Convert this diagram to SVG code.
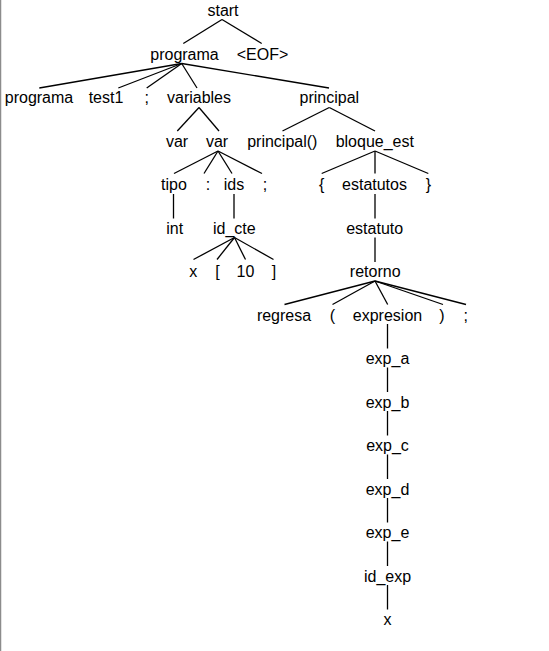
<svg xmlns="http://www.w3.org/2000/svg" width="549" height="651" viewBox="0 0 549 651">
  <style>
    text { font-family: "Liberation Sans", Arial, sans-serif; font-size: 16px; fill: #000; text-anchor: middle; }
    .edges line { stroke: #000; stroke-width: 1.3; }
  </style>
  <rect width="549" height="651" fill="#fff"/>
  <line x1="0.5" y1="0" x2="0.5" y2="651" stroke="#8c8c8c" stroke-width="1.5"/>

  <!-- parse tree edges -->
  <g class="edges">
    <line x1="222" y1="19.5" x2="183.3" y2="43.5"/>
    <line x1="222" y1="19.5" x2="261.7" y2="43.5"/>
    <line x1="181.7" y1="63.5" x2="39.3" y2="88"/>
    <line x1="181.7" y1="63.5" x2="118.3" y2="88"/>
    <line x1="181.7" y1="63.5" x2="146.7" y2="88"/>
    <line x1="181.7" y1="63.5" x2="197" y2="88"/>
    <line x1="181.7" y1="63.5" x2="329" y2="88"/>
    <line x1="199" y1="107.5" x2="177.3" y2="131"/>
    <line x1="199" y1="107.5" x2="219" y2="131"/>
    <line x1="329.3" y1="107.5" x2="282.5" y2="131"/>
    <line x1="329.3" y1="107.5" x2="375" y2="131"/>
    <line x1="218" y1="151" x2="174" y2="173.5"/>
    <line x1="218" y1="151" x2="204" y2="173.5"/>
    <line x1="218" y1="151" x2="232" y2="173.5"/>
    <line x1="218" y1="151" x2="262" y2="173.5"/>
    <line x1="375" y1="151" x2="321.7" y2="173.5"/>
    <line x1="375" y1="151" x2="375" y2="173.5"/>
    <line x1="375" y1="151" x2="428.3" y2="173.5"/>
    <line x1="173.5" y1="194" x2="173.5" y2="218.5"/>
    <line x1="234" y1="194" x2="234" y2="218.5"/>
    <line x1="375" y1="194" x2="375" y2="218.5"/>
    <line x1="234.5" y1="237.5" x2="193.5" y2="259.5"/>
    <line x1="234.5" y1="237.5" x2="217" y2="259.5"/>
    <line x1="234.5" y1="237.5" x2="245.5" y2="259.5"/>
    <line x1="234.5" y1="237.5" x2="273.5" y2="259.5"/>
    <line x1="375" y1="237.5" x2="375" y2="262"/>
    <line x1="375" y1="281" x2="284.5" y2="304.5"/>
    <line x1="375" y1="281" x2="332.5" y2="304.5"/>
    <line x1="375" y1="281" x2="387.7" y2="304.5"/>
    <line x1="375" y1="281" x2="443" y2="304.5"/>
    <line x1="375" y1="281" x2="466" y2="304.5"/>
    <line x1="387.5" y1="324" x2="387.5" y2="348.5"/>
    <line x1="387.5" y1="367.5" x2="387.5" y2="392"/>
    <line x1="387.5" y1="411" x2="387.5" y2="435.5"/>
    <line x1="387.5" y1="454.5" x2="387.5" y2="479"/>
    <line x1="387.5" y1="498" x2="387.5" y2="522.5"/>
    <line x1="387.5" y1="541.5" x2="387.5" y2="566"/>
    <line x1="387.5" y1="585" x2="387.5" y2="609.5"/>
  </g>

  <!-- nodes -->
  <g id="n-start"><text x="223" y="16">start</text></g>
  <g id="n-programa"><text x="184.5" y="59.5">programa</text></g>
  <g id="n-eof"><text x="262.5" y="59.5">&lt;EOF&gt;</text></g>
  <g id="n-kw-programa"><text x="39" y="103">programa</text></g>
  <g id="n-test1"><text x="106" y="103">test1</text></g>
  <g id="n-semi1"><text x="146.7" y="103">;</text></g>
  <g id="n-variables"><text x="199" y="103">variables</text></g>
  <g id="n-principal"><text x="329.3" y="103">principal</text></g>
  <g id="n-var1"><text x="177" y="146.5">var</text></g>
  <g id="n-var2"><text x="217" y="146.5">var</text></g>
  <g id="n-principal-call"><text x="282.3" y="146.5">principal()</text></g>
  <g id="n-bloque-est"><text x="374.8" y="146.5">bloque_est</text></g>
  <g id="n-tipo"><text x="174" y="190">tipo</text></g>
  <g id="n-colon"><text x="208" y="190">:</text></g>
  <g id="n-ids"><text x="234" y="190">ids</text></g>
  <g id="n-semi2"><text x="265" y="190">;</text></g>
  <g id="n-lbrace"><text x="321.7" y="190">{</text></g>
  <g id="n-estatutos"><text x="374.5" y="190">estatutos</text></g>
  <g id="n-rbrace"><text x="428.5" y="190">}</text></g>
  <g id="n-int"><text x="174.7" y="233.5">int</text></g>
  <g id="n-id-cte"><text x="234.3" y="233.5">id_cte</text></g>
  <g id="n-estatuto"><text x="374.7" y="233.5">estatuto</text></g>
  <g id="n-x1"><text x="193.3" y="277">x</text></g>
  <g id="n-lbracket"><text x="217.5" y="277">[</text></g>
  <g id="n-ten"><text x="245.5" y="277">10</text></g>
  <g id="n-rbracket"><text x="274" y="277">]</text></g>
  <g id="n-retorno"><text x="375.2" y="277">retorno</text></g>
  <g id="n-regresa"><text x="284" y="320.5">regresa</text></g>
  <g id="n-lparen"><text x="332.5" y="320.5">(</text></g>
  <g id="n-expresion"><text x="387.5" y="320.5">expresion</text></g>
  <g id="n-rparen"><text x="442" y="320.5">)</text></g>
  <g id="n-semi3"><text x="465.7" y="320.5">;</text></g>
  <g id="n-exp-a"><text x="387.5" y="364">exp_a</text></g>
  <g id="n-exp-b"><text x="387.5" y="407.5">exp_b</text></g>
  <g id="n-exp-c"><text x="387.5" y="451">exp_c</text></g>
  <g id="n-exp-d"><text x="387.5" y="494.5">exp_d</text></g>
  <g id="n-exp-e"><text x="387.5" y="538">exp_e</text></g>
  <g id="n-id-exp"><text x="387.5" y="581.5">id_exp</text></g>
  <g id="n-x2"><text x="387.5" y="625">x</text></g>
</svg>
